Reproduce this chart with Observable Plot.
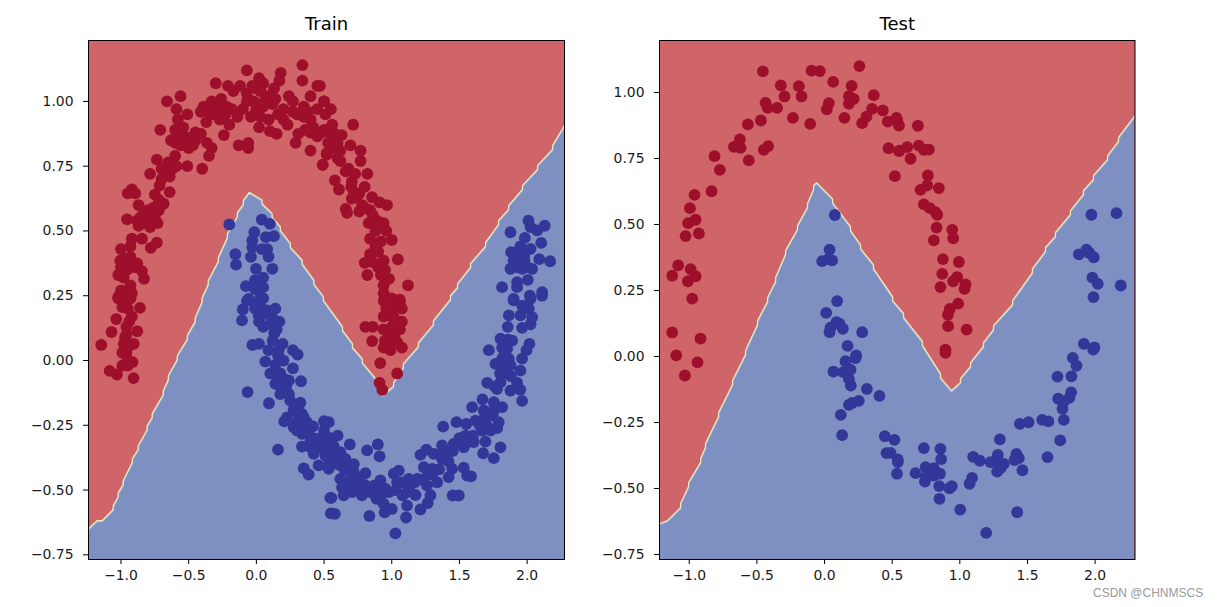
<!DOCTYPE html>
<html><head><meta charset="utf-8">
<script src="https://cdn.jsdelivr.net/npm/d3@7"></script>
<script src="https://cdn.jsdelivr.net/npm/@observablehq/plot@0.6"></script>
<style>
html,body{margin:0;padding:0;background:#fff;}
#wrap{position:relative;width:1217px;height:607px;overflow:hidden;}
#wrap svg{position:absolute;top:0;}
#mark{position:absolute;left:1093px;top:586px;font:12px "Liberation Sans",sans-serif;color:#9a9a9a;white-space:nowrap;}
</style></head><body><div id="wrap"><div id="mark">CSDN @CHNMSCS</div></div>
<script>
const trainXDomain=[-1.24,2.276], trainYDomain=[-0.768,1.235];
const testXDomain=[-1.22,2.295], testYDomain=[-0.769,1.197];
const xTickValues=[-1,-0.5,0,0.5,1,1.5,2];
const yTickValues=[-0.75,-0.5,-0.25,0,0.25,0.5,0.75,1];
const trainBoundary=[[-1.24,-.649],[-1.177,-.618],[-1.14,-.618],[-1.057,-.575],[-1.057,-.56],[-1.02,-.525],[-1.02,-.51],[-.983,-.478],[-.983,-.463],[-.916,-.393],[-.916,-.378],[-.872,-.343],[-.872,-.328],[-.806,-.266],[-.806,-.251],[-.769,-.22],[-.769,-.205],[-.687,-.131],[-.687,-.116],[-.65,-.073],[-.65,-.058],[-.584,.004],[-.584,.019],[-.51,.082],[-.51,.097],[-.451,.151],[-.451,.166],[-.40,.228],[-.40,.243],[-.355,.294],[-.355,.309],[-.281,.383],[-.281,.398],[-.214,.475],[-.214,.49],[-.14,.556],[-.14,.571],[-.096,.603],[-.096,.618],[-.052,.649],[.042,.62],[.042,.605],[.116,.568],[.116,.553],[.177,.517],[.177,.502],[.251,.452],[.251,.437],[.338,.388],[.338,.373],[.424,.311],[.424,.296],[.495,.247],[.495,.232],[.636,.131],[.636,.116],[.71,.065],[.71,.05],[.783,.007],[.783,-.008],[.88,-.07],[.88,-.085],[.931,-.135],[1.013,-.10],[1.013,-.085],[1.086,-.027],[1.086,-.012],[1.197,.054],[1.197,.069],[1.308,.139],[1.308,.154],[1.434,.236],[1.434,.251],[1.486,.282],[1.486,.297],[1.582,.36],[1.582,.375],[1.693,.441],[1.693,.456],[1.789,.526],[1.789,.541],[1.863,.583],[1.863,.598],[1.966,.661],[1.966,.676],[2.077,.738],[2.077,.753],[2.188,.815],[2.188,.83],[2.276,.907]];
const testBoundary=[[-1.22,-.633],[-1.16,-.621],[-1.064,-.572],[-1.064,-.557],[-1.005,-.492],[-1.005,-.477],[-.916,-.401],[-.916,-.386],[-.88,-.345],[-.88,-.33],[-.783,-.227],[-.783,-.212],[-.68,-.106],[-.68,-.091],[-.584,.008],[-.584,.023],[-.495,.121],[-.495,.136],[-.421,.208],[-.421,.223],[-.362,.284],[-.362,.299],[-.288,.387],[-.288,.402],[-.20,.481],[-.20,.496],[-.126,.565],[-.126,.58],[-.081,.633],[-.081,.648],[-.059,.659],[.059,.598],[.059,.583],[.192,.492],[.192,.477],[.266,.424],[.266,.409],[.362,.348],[.362,.333],[.503,.227],[.503,.212],[.584,.163],[.584,.148],[.724,.057],[.724,.042],[.857,-.065],[.857,-.08],[.939,-.129],[1.005,-.098],[1.005,-.083],[1.079,-.038],[1.079,-.023],[1.175,.038],[1.175,.053],[1.249,.102],[1.249,.117],[1.39,.197],[1.39,.212],[1.537,.318],[1.537,.333],[1.633,.398],[1.633,.413],[1.707,.455],[1.707,.47],[1.818,.538],[1.818,.553],[1.914,.614],[1.914,.629],[1.988,.671],[1.988,.686],[2.092,.746],[2.092,.761],[2.173,.815],[2.173,.83],[2.295,.913]];
const trainRed=[[.34,1.14],[.18,1.11],[-.07,1.12],[-.30,1.07],[.02,1.09],[.05,1.07],[-.21,1.06],[-.12,1.06],[.34,1.08],[.45,1.06],[.17,1.08],[-.17,1.04],[.03,1.04],[.13,1.05],[-.07,1.03],[-.02,1.00],[.05,.98],[.00,.97],[-.07,1.00],[.14,1.01],[.24,1.02],[.27,1.00],[.20,.97],[.40,1.02],[.50,1.00],[.45,.97],[.35,.98],[.32,.95],[.40,.93],[.20,.93],[.23,.91],[.09,.93],[.02,.90],[-.04,.94],[-.14,.94],[-.20,.91],[-.26,1.01],[-.22,.98],[-.29,.98],[-.39,.98],[-.41,.96],[-.32,.95],[-.37,.92],[-.27,.93],[-.24,.87],[-.66,1.00],[-.56,1.02],[-.59,.97],[-.51,.95],[-.58,.93],[-.71,.89],[-.60,.89],[-.54,.90],[-.45,.88],[-.41,.875],[-.51,.86],[-.45,.85],[-.525,.83],[-.365,.84],[-.33,.82],[-.35,.79],[-.13,.83],[-.06,.84],[-.06,.82],[.10,.885],[.15,.875],[.31,.875],[.29,.84],[.40,.88],[.45,.865],[.52,.89],[.40,.81],[.52,.795],[.49,.755],[-.60,.79],[-.735,.775],[-.65,.765],[-.51,.75],[-.40,.74],[-.59,.75],[-.785,.72],[-.70,.74],[-.64,.71],[-.715,.675],[-.92,.66],[-.95,.645],[-.895,.645],[-.64,.65],[-.75,.64],[-.685,.605],[-.87,.60],[-.72,.58],[-.80,.58],[-.955,.545],[-.86,.55],[-.82,.53],[-.73,.53],[-.87,.52],[-.785,.515],[-.92,.47],[-.845,.47],[-.735,.455],[-.78,.435],[-1.0,.43],[-.93,.44],[-1.005,.385],[-.93,.40],[-.88,.375],[-1.02,.33],[-.955,.35],[-.845,.345],[-.83,.315],[-.93,.29],[-1.0,.27],[-.92,.26],[-1.02,.245],
[.47,1.06],[.50,1.00],[.55,.97],[.51,.95],[.56,.91],[.715,.91],[.63,.87],[.58,.875],[.50,.89],[.695,.83],[.77,.81],[.60,.84],[.62,.81],[.52,.80],[.49,.755],[.62,.77],[.77,.77],[.66,.73],[.82,.72],[.73,.72],[.58,.695],[.61,.66],[.705,.69],[.80,.67],[.76,.645],[.705,.625],[.855,.63],[.91,.61],[.965,.60],[.66,.585],[.67,.57],[.76,.575],[.84,.58],[.83,.53],[.89,.54],[.94,.53],[.96,.50],[.84,.47],[.92,.46],[1.0,.465],[.84,.41],[.90,.42],[.80,.377],[.94,.385],[1.045,.39],[.82,.33],[.95,.35],[.98,.315],[.94,.29],[1.12,.29],[.94,.26],[1.0,.24],[1.06,.235],
[.94,.23],[1.06,.225],[1.075,.20],[.94,.17],[1.015,.167],[1.075,.15],[1.0,.13],[.805,.13],[.86,.13],[.94,.12],[1.06,.12],[.855,.075],[.95,.077],[.94,.05],[.99,.04],[1.075,.05],[.915,-.01],[1.04,-.05],[.91,-.086],[.93,-.113],
[-1.02,.24],[-.93,.24],[-.99,.206],[-.86,.203],[-1.035,.16],[-.92,.17],[-.96,.13],[-1.07,.11],[-.88,.113],[-.97,.09],[-.906,.064],[-1.146,.06],[-.98,.064],[-.99,.03],[-.915,-.006],[-.99,-.02],[-1.084,-.04],[-1.03,-.054],[-.907,-.068],
[.0,1.05],[-.03,1.06],[.08,1.02],[.12,.99],[-.1,.97],[.03,.94],[.06,1.0],[-.01,.95],[.16,.95],[.27,.96],[.3,.95],[-.33,1.0],[-.35,.96],[-.29,.95],[-.23,.95],[-.18,.97],[.35,.94],[.38,.96],[.42,.9],[.36,.89],[.48,.88],[.55,.87],[.53,.84],[.6,.78],[.58,.82],[.68,.74],[.7,.67],[.72,.65],[.74,.63],[.78,.6],[.8,.59],[.86,.56],[.88,.5],[.88,.44],[.86,.38],[.9,.36],[.92,.33],[.96,.2],[1.02,.2],[1.0,.17],[.98,.1],[1.02,.09],[1.04,.07],[.97,.07],[-.56,.87],[-.5,.82],[-.63,.85],[-.6,.84],[-.56,.83],[-.47,.83],[-.65,.73],[-.7,.7],[-.62,.74],[-.72,.62],[-.76,.59],[-.78,.56],[-.84,.56],[-.75,.55],[-.88,.54],[-.98,.39],[-1.0,.36],[-.96,.39],[-.94,.37],[-.9,.36],[-.98,.32],[-.97,.24],[-.95,.2],[-.94,.15],[-.96,.1],[-.95,.05],[-.96,.03],[-.95,0],[-.95,-.02]];
const trainBlue=[[-.20,.525],[.04,.544],[.10,.527],[-.015,.495],[-.03,.463],[.07,.476],[.13,.48],[-.03,.437],[.04,.43],[.08,.43],[-.04,.40],[.09,.40],[-.155,.41],[-.15,.37],[-.003,.354],[.118,.354],[.05,.32],[-.01,.31],[-.077,.287],[.05,.283],[-.01,.276],[-.057,.238],[.03,.245],
[-.07,.23],[.05,.24],[-.10,.197],[-.01,.20],[.08,.193],[.14,.20],[-.106,.155],[.017,.174],[.115,.167],[.17,.15],[.05,.13],[.132,.105],[.12,.077],[-.03,.06],[.02,.064],[.194,.064],[.09,.04],[.165,.04],[.27,.04],[.305,.023],[.066,-.004],[.14,-.017],[.27,-.03],[.103,-.05],[.177,-.05],[.24,-.077],[.33,-.08],[.14,-.09],[.177,-.10],[-.065,-.122],[.177,-.13],[.24,-.13],[.25,-.155],[.093,-.165],[.325,-.163],[.275,-.19],[.337,-.206],[.226,-.22],[.206,-.235],[.30,-.238],[.374,-.238],[.50,-.234],[.418,-.254],[.275,-.257],[.337,-.283],[.40,-.309],[.467,-.309],[.534,-.30],[.337,-.332],[.40,-.335],[.47,-.335],[.534,-.328],[.16,-.344],[.423,-.36],[.51,-.367],[.35,-.416],[.386,-.44],[.46,-.405],[.534,-.418],[.546,-.53],[.55,-.59],
[.535,-.238],[.473,-.30],[.547,-.30],[.60,-.29],[.69,-.324],[.547,-.35],[.62,-.354],[.658,-.38],[.818,-.347],[.897,-.324],[.91,-.37],[.535,-.405],[.62,-.405],[.72,-.40],[.72,-.431],[.805,-.435],[.62,-.457],[.633,-.49],[.769,-.483],[.707,-.508],[.645,-.52],[.554,-.53],[.78,-.52],[.867,-.483],[.916,-.463],[.953,-.495],[.887,-.534],[.978,-.508],[.94,-.553],[1.0,-.573],[.948,-.586],[.58,-.592],[.835,-.60],[1.027,-.667],[1.106,-.606],[1.113,-.56],[1.015,-.437],[1.052,-.425],[1.126,-.457],[1.04,-.47],[1.175,-.519],[1.113,-.508],[1.187,-.457],[1.212,-.575],[1.266,-.55],[1.286,-.52],[1.26,-.483],[1.335,-.47],[1.237,-.412],[1.212,-.364],[1.256,-.344],[1.31,-.36],[1.298,-.418],[1.372,-.38],[1.41,-.354],[1.372,-.328],[1.38,-.255],[1.42,-.45],[1.446,-.418],[1.45,-.521],[1.495,-.521],[1.532,-.414],[1.557,-.444],[1.586,-.447],[1.458,-.322],[1.532,-.335],[1.544,-.29],[1.606,-.315],[1.478,-.238],[1.55,-.245],[1.618,-.232],[1.594,-.18],[1.675,-.358],[1.692,-.313],[1.754,-.377],[1.803,-.335],[1.667,-.27],[1.73,-.27],[1.79,-.238],[1.778,-.261],[1.68,-.193],[1.68,-.225],[1.742,-.212],[1.67,-.15],[1.754,-.161],[1.815,-.18],[1.705,-.086],[1.778,-.11],[1.963,-.156],[1.877,-.116],[1.95,-.113],[1.803,-.084],[1.926,-.086],[1.766,-.013],[1.828,-.032],[1.963,.007],[1.95,-.039],[1.877,-.019],[1.717,.04],[1.815,.006],[1.865,.006],[1.803,.084],[1.815,.05],[1.89,.077],[1.852,.045],[1.995,.04],[2.017,.064],[1.857,.13],[1.963,.126],[2.025,.14],[1.865,.174],[1.95,.174],[2.037,.167],[1.90,.232],[1.963,.212],[2.025,.238],[2.012,.2],[2.11,.25],
[2.01,.54],[2.025,.515],[2.13,.52],[2.074,.502],[1.877,.495],[1.983,.473],[2.104,.454],[2.025,.431],[1.882,.418],[1.95,.412],[1.90,.386],[1.98,.386],[2.09,.391],[2.17,.383],[1.877,.354],[1.963,.354],[2.037,.354],[2.005,.311],[1.815,.283],[1.926,.302],[1.926,.283],[2.111,.264],[2.02,.25],[1.90,.238],
[.03,.21],[0,.22],[.07,.18],[.02,.15],[.1,.14],[.15,.12],[.16,.02],[.2,0],[.14,-.05],[.2,-.07],[.22,-.1],[.3,-.2],[.35,-.22],[.38,-.28],[.3,-.27],[.36,-.25],[.42,-.3],[.5,-.27],[.44,-.34],[.5,-.3],[.5,-.34],[.57,-.33],[.58,-.37],[.6,-.4],[.65,-.42],[.68,-.4],[.7,-.45],[.68,-.48],[.72,-.48],[.75,-.46],[.8,-.48],[.85,-.51],[.9,-.5],[.92,-.52],[1.03,-.5],[1.08,-.47],[1.08,-.52],[1.13,-.5],[1.17,-.47],[1.22,-.46],[1.27,-.44],[1.3,-.44],[1.35,-.42],[1.38,-.36],[1.42,-.39],[1.45,-.35],[1.5,-.3],[1.55,-.32],[1.6,-.29],[1.65,-.25],[1.7,-.25],[1.75,-.2],[1.72,-.2],[1.76,-.1],[1.8,-.05],[1.82,-.02],[1.85,-.05],[1.88,-.06],[1.83,.02],[1.86,.08],[1.93,.42],[1.95,.44],[1.98,.41],[1.97,.38],[2.0,.36],[1.93,.36],[1.92,.39]];
const testRed=[[-.456,1.08],[-.096,1.083],[-.035,1.081],[.258,1.10],[-.323,1.027],[-.19,1.024],[.064,1.04],[.20,1.025],[-.296,.985],[-.17,.985],[.364,.99],[.18,.986],[.216,.976],[-.436,.961],[.032,.96],[.18,.957],[-.42,.942],[-.35,.942],[.017,.936],[.352,.938],[.431,.932],[-.234,.904],[.147,.904],[.31,.909],[-.106,.881],[.278,.884],[-.47,.894],[-.567,.879],[.468,.89],[.537,.894],[.55,.875],[-.626,.822],[-.67,.794],[-.621,.79],[-.417,.797],[-.449,.783],[-.56,.743],[-.813,.759],[-.774,.707],[.473,.789],[.55,.778],[.52,.683],[-.835,.626],[-.961,.612],[-.995,.562],[-.953,.518],[-1.008,.505],[-.929,.466],[-1.027,.456],[-1.082,.345],[-.99,.331],[-1.126,.306],[-.953,.304],[-1.01,.285],[-.978,.219],[-1.126,.091],[-.917,.068],[-1.096,.004],[-.939,-.022],[-1.032,-.072],
[.532,.904],[.69,.874],[.555,.78],[.611,.793],[.697,.799],[.734,.783],[.771,.784],[.636,.749],[.764,.686],[.759,.648],[.71,.631],[.845,.638],[.734,.576],[.779,.562],[.82,.547],[.833,.537],[.828,.488],[.944,.48],[.951,.448],[.808,.44],[.875,.369],[.993,.358],[.87,.313],[.98,.301],[.951,.285],[1.042,.273],[.857,.263],[1.035,.256],[.988,.2],[.926,.18],[.912,.158],[.914,.115],[1.05,.102],[.894,.026],[.894,.014]];
const testBlue=[[.076,.536],[.037,.405],[-.017,.361],[.056,.364],[.03,.37],[.093,.21],[.012,.165],[.088,.13],[.11,.124],[.044,.109],[.037,.092],[.135,.105],[.278,.092],[.17,.04],[.234,.004],[.229,-.006],[.155,-.018],[.192,-.05],[.066,-.057],[.138,-.059],[.18,-.085],[.194,-.11],[.313,-.123],[.406,-.149],[.253,-.168],[.204,-.176],[.18,-.183],[.12,-.221],[.13,-.298],[.446,-.302],[.517,-.316],[.458,-.366],[.541,-.39],[.536,-.444],
[.542,-.40],[.488,-.365],[.673,-.442],[.734,-.347],[.857,-.35],[.862,-.389],[.747,-.419],[.808,-.423],[.742,-.474],[.747,-.457],[.808,-.451],[.853,-.444],[.848,-.491],[.85,-.539],[.924,-.499],[.941,-.491],[1.003,-.58],[1.072,-.482],[1.091,-.46],[1.099,-.38],[1.148,-.395],[1.227,-.40],[1.281,-.373],[1.276,-.40],[1.325,-.407],[1.301,-.423],[1.276,-.436],[1.296,-.314],[1.195,-.668],[1.424,-.59],[1.419,-.369],[1.436,-.385],[1.404,-.392],[1.463,-.431],[1.648,-.381],[1.444,-.255],[1.508,-.249],[1.609,-.24],[1.655,-.246],[1.742,-.318],[1.769,-.24],[1.759,-.198],[1.727,-.16],[1.769,-.17],[1.81,-.157],[1.823,-.136],[1.722,-.076],[1.825,-.075],[1.862,-.035],[1.835,-.005],[1.917,.048],[1.986,.026],[1.995,.034],[1.988,.225],
[1.973,.537],[2.158,.543],[1.88,.387],[1.936,.405],[1.958,.392],[1.99,.376],[1.98,.299],[2.02,.275],[2.19,.269]];

const colors={redBg:"#CF6568",blueBg:"#7E90C1",red:"#9E0F2B",blue:"#33379A",edge:"#F6E8B2",halo:"#A4C3DC"};
const fmtX=d3.format(".1f"), fmtY=d3.format(".2f");
function panel(title,xD,yD,boundary,red,blue,left,width,ml,mr){
  const px=d=>d[0], py=d=>d[1];
  const svg=Plot.plot({
    width,height:607,marginLeft:ml,marginRight:mr,marginTop:40,marginBottom:48,
    x:{domain:xD},y:{domain:yD},
    style:{fontFamily:"DejaVu Sans",fontSize:"13.9px",color:"#1a1a1a",background:"transparent"},
    marks:[
      Plot.frame({fill:colors.redBg,stroke:"none"}),
      Plot.areaY(boundary,{x:px,y1:()=>yD[0],y2:py,fill:colors.blueBg,clip:"frame"}),
      Plot.line(boundary,{x:px,y:py,stroke:colors.halo,strokeWidth:1.4,dy:1,clip:"frame"}),
      Plot.line(boundary,{x:px,y:py,stroke:colors.edge,strokeWidth:1.1,clip:"frame"}),
      Plot.dot(red,{x:px,y:py,r:5.9,fill:colors.red,stroke:"none"}),
      Plot.dot(blue,{x:px,y:py,r:5.9,fill:colors.blue,stroke:"none"}),
      Plot.frame({stroke:"#000",strokeWidth:1}),
      Plot.axisX({ticks:xTickValues,tickFormat:fmtX,tickSize:5,tickPadding:6,label:null,fontSize:13.9,stroke:"#000"}),
      Plot.axisY({ticks:yTickValues,tickFormat:fmtY,tickSize:5,tickPadding:10,label:null,fontSize:13.9,stroke:"#000"}),
      Plot.text([title],{text:d=>d,frameAnchor:"top",dy:-23,fontSize:18,fill:"#000"})
    ]
  });
  svg.style.left=left+"px";
  document.getElementById("wrap").appendChild(svg);
}
panel("Train",trainXDomain,trainYDomain,trainBoundary,trainRed,trainBlue,0,600,88,36);
panel("Test",testXDomain,testYDomain,testBoundary,testRed,testBlue,600,617,59,82.5);
</script></body></html>
